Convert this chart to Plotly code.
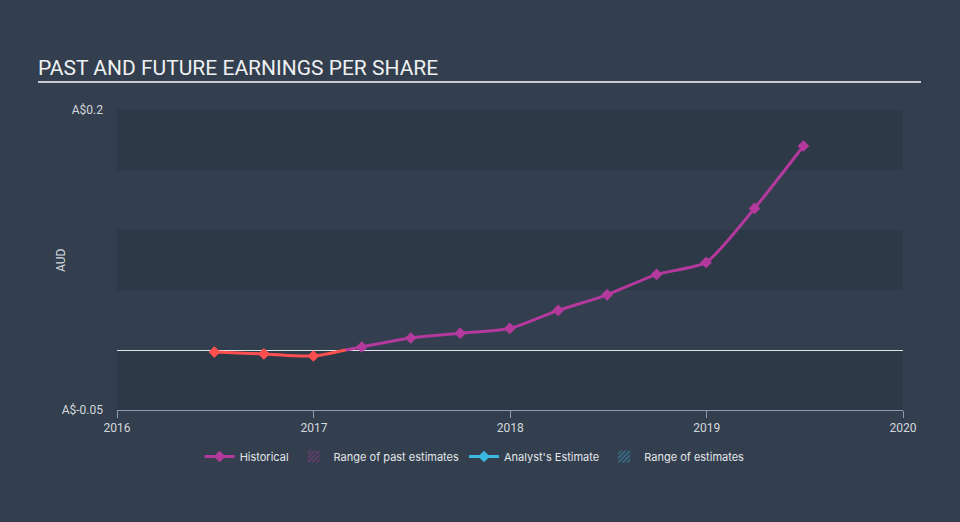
import numpy as np
import plotly.graph_objects as go

# ---- data ----
dates = ["2016-06-30", "2016-09-30", "2016-12-31", "2017-03-31", "2017-06-30",
         "2017-09-30", "2017-12-31", "2018-03-31", "2018-06-30", "2018-09-30",
         "2018-12-31", "2019-03-31", "2019-06-30"]
eps = [-0.0017, -0.0033, -0.005, 0.0025, 0.010, 0.014, 0.018, 0.033,
       0.046, 0.063, 0.073, 0.118, 0.170]
y_ticks = [-0.05, 0.2]
y_ticklabels = ["A$-0.05", "A$0.2"]
year_ticks = ["2016-01-01", "2017-01-01", "2018-01-01", "2019-01-01", "2020-01-01"]
year_labels = ["2016", "2017", "2018", "2019", "2020"]
band_edges = [-0.05, 0.0, 0.05, 0.1, 0.15, 0.2]

PURPLE = "#b3399c"
RED = "#ff4f4f"
BLUE = "#3bb8e0"
BG = "#333f4e"
DARK = "#2e3948"
TXT = "#d4d8dd"

# split into negative (red) and positive (purple) parts at the zero crossing
t = np.array([np.datetime64(d).astype("datetime64[D]").astype(float) for d in dates])
v = np.array(eps)
i = int(np.argmax(v > 0))
tc = t[i - 1] + (0 - v[i - 1]) * (t[i] - t[i - 1]) / (v[i] - v[i - 1])
cross = str(np.datetime64(int(round(tc)), "D"))

fig = go.Figure()

# purple (positive part)
fig.add_trace(go.Scatter(
    x=[cross] + dates[i:], y=[0.0] + eps[i:],
    mode="lines", line=dict(color=PURPLE, width=3, shape="spline", smoothing=0.6),
    showlegend=False, hoverinfo="skip"))
fig.add_trace(go.Scatter(
    x=dates[i:], y=eps[i:], mode="markers",
    marker=dict(symbol="diamond", size=9, color=PURPLE),
    showlegend=False))
# red (negative part)
fig.add_trace(go.Scatter(
    x=dates[:i] + [cross], y=eps[:i] + [0.0],
    mode="lines", line=dict(color=RED, width=3, shape="spline", smoothing=0.6),
    showlegend=False, hoverinfo="skip"))
fig.add_trace(go.Scatter(
    x=dates[:i], y=eps[:i], mode="markers",
    marker=dict(symbol="diamond", size=9, color=RED),
    showlegend=False))

# legend entries
fig.add_trace(go.Scatter(x=[None], y=[None], mode="lines+markers", name="Historical",
                         line=dict(color=PURPLE, width=3),
                         marker=dict(symbol="diamond", size=9, color=PURPLE)))
fig.add_trace(go.Bar(x=[None], y=[None], name="Range of past estimates",
                     marker=dict(color="rgba(0,0,0,0)", line=dict(width=0),
                                 pattern=dict(shape="/", fgcolor=PURPLE, size=4, solidity=0.4))))
fig.add_trace(go.Scatter(x=[None], y=[None], mode="lines+markers", name="Analyst's Estimate",
                         line=dict(color=BLUE, width=3),
                         marker=dict(symbol="diamond", size=9, color=BLUE)))
fig.add_trace(go.Bar(x=[None], y=[None], name="Range of estimates",
                     marker=dict(color="rgba(0,0,0,0)", line=dict(width=0),
                                 pattern=dict(shape="/", fgcolor=BLUE, size=4, solidity=0.4))))

# bands
for k in range(len(band_edges) - 1):
    if k % 2 == 0:
        fig.add_shape(type="rect", xref="x domain", yref="y", x0=0, x1=1,
                      y0=band_edges[k], y1=band_edges[k + 1],
                      fillcolor=DARK, line=dict(width=0), layer="below")

# title underline
fig.add_shape(type="line", xref="paper", yref="paper",
              x0=-79 / 786, x1=(921 - 117) / 786, y0=(522 - 82 - 112) / 300, y1=(522 - 82 - 112) / 300,
              line=dict(color="#c8ccd2", width=2))

# y axis title
fig.add_annotation(text="AUD", xref="paper", yref="paper", x=(61 - 117) / 786, y=0.5,
                   textangle=-90, showarrow=False, font=dict(size=12, color=TXT),
                   xanchor="center", yanchor="middle")

fig.update_layout(
    width=960, height=522,
    paper_bgcolor=BG, plot_bgcolor=BG,
    margin=dict(l=117, r=57, t=110, b=112),
    font=dict(family="Roboto", color=TXT, size=12),
    title=dict(text="PAST AND FUTURE EARNINGS PER SHARE", x=38 / 960, xanchor="left",
               y=1 - 68 / 522, yanchor="middle",
               font=dict(family="Roboto", size=21, color="#eef0f2")),
    xaxis=dict(type="date", range=["2016-01-01", "2020-01-01"],
               tickvals=year_ticks, ticktext=year_labels,
               showgrid=False, zeroline=False, showline=True, linecolor="#8f9bab", linewidth=1,
               ticks="outside", ticklen=7, tickcolor="#8f9bab",
               tickfont=dict(size=12, color=TXT)),
    yaxis=dict(range=[-0.05, 0.2], tickvals=y_ticks, ticktext=y_ticklabels,
               showgrid=False, zeroline=True, zerolinecolor="#dfe2e6", zerolinewidth=1,
               showline=False, ticks="", tickfont=dict(size=12, color=TXT),
               ticklabelstandoff=13),
    legend=dict(orientation="h", x=0.455, xanchor="center", y=-0.155, yanchor="middle",
                font=dict(family="Inter", size=11, color="#e4e6ea"),
                bgcolor="rgba(0,0,0,0)", itemwidth=30, tracegroupgap=0),
    barmode="overlay",
)

fig.write_html("out.html")
